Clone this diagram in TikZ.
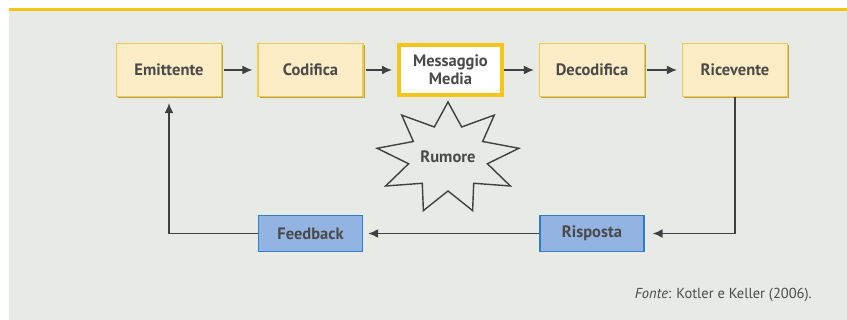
\documentclass[tikz,border=0pt]{standalone}
\usepackage{fontspec}
\setmainfont{PT Sans}
\usetikzlibrary{arrows.meta,shadows}
\definecolor{bg}{HTML}{E8EBE5}
\definecolor{topline}{HTML}{F5C518}
\definecolor{cream}{HTML}{FDEDC6}
\definecolor{ybord}{HTML}{F0CB4A}
\definecolor{yshadow}{HTML}{B9A257}
\definecolor{bluefill}{HTML}{93B4E2}
\definecolor{bluebord}{HTML}{2E7FCB}
\definecolor{txt}{HTML}{4A4A4A}
\definecolor{linec}{HTML}{404040}
\begin{document}
\begin{tikzpicture}[x=1pt,y=-1pt,
  boxtext/.style={font=\bfseries\fontsize{16.5}{18}\selectfont, text=txt, align=center, inner sep=0pt},
  ybox/.style={boxtext, draw=ybord, line width=1.2pt, fill=cream, minimum width=105pt, minimum height=53pt,
    drop shadow={shadow xshift=1.6pt, shadow yshift=-1.6pt, fill=yshadow, opacity=1}},
  mbox/.style={boxtext, draw=topline, line width=4pt, fill=white, minimum width=103pt, minimum height=50pt},
  bbox/.style={boxtext, draw=bluebord, line width=1.4pt, fill=bluefill, minimum width=104pt, minimum height=36pt},
  conn/.style={draw=linec, line width=1.5pt, -{Latex[length=10pt,width=9pt]}}
]
\useasboundingbox (0,0) rectangle (847,320);
\fill[bg] (9,10) rectangle (847,320);
\draw[topline, line width=3pt] (9,10) -- (847,10);

\node[ybox] (emit) at (169,70) {Emittente};
\node[ybox] (cod) at (310.5,70) {Codifica};
\node[mbox] (mess) at (450.5,70) {Messaggio\\Media};
\node[ybox] (dec) at (592,70) {Decodifica};
\node[ybox] (ric) at (735,70) {Ricevente};

\node[bbox] (feed) at (310.5,233.5) {Feedback};
\node[bbox] (risp) at (592,233.5) {Risposta};

\draw[linec, line width=1.4pt, line join=miter, fill=bg, shift={(448,158)}]
  (-90:72 and 56) \foreach \i in {0,...,8} { -- ({-70+40*\i}:40 and 33) -- ({-50+40*\i}:72 and 56) } -- cycle;
\node[boxtext] (rum) at (448,157) {Rumore};

\draw[conn, shorten <=2pt, shorten >=5pt] (emit) -- (cod);
\draw[conn, shorten <=2pt, shorten >=5pt] (cod) -- (mess);
\draw[conn, shorten <=0pt, shorten >=5pt] (mess) -- (dec);
\draw[conn, shorten <=2pt, shorten >=5pt] (dec) -- (ric);
\draw[conn, shorten >=8pt] (ric.south) |- (risp.east);
\draw[conn, shorten >=5pt] (risp.west) -- (feed.east);
\draw[conn, shorten >=6pt] (feed.west) -| (emit.south);

\node[anchor=east, font=\fontsize{14.5}{16}\selectfont, text=txt, inner sep=0pt] (fonte) at (812,295) {\textit{Fonte}: Kotler e Keller (2006).};
\end{tikzpicture}
\end{document}
